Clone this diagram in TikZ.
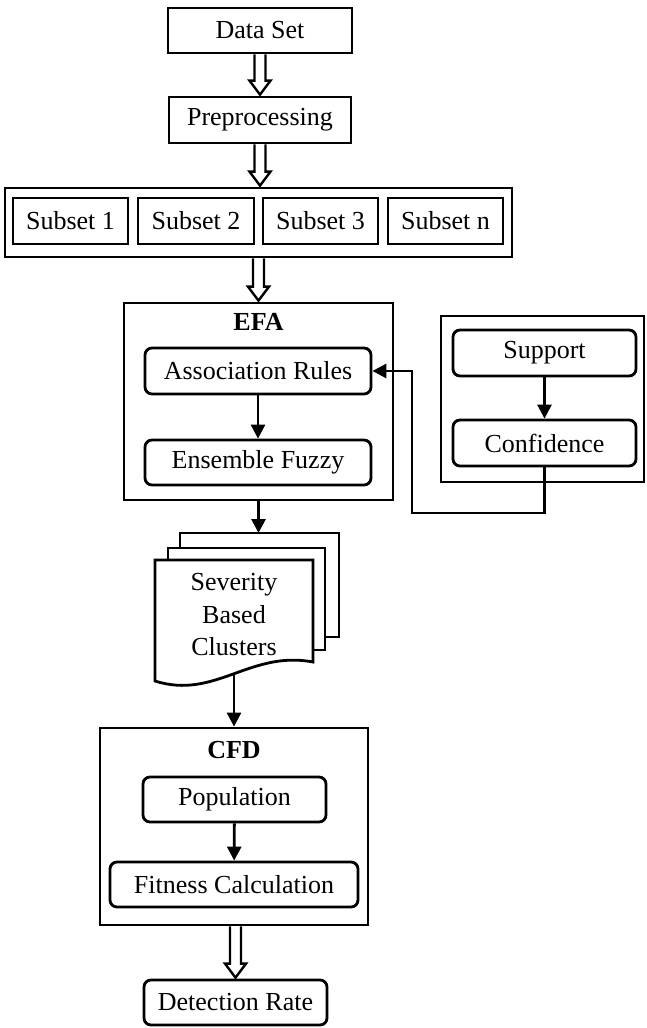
\documentclass[tikz,border=0pt]{standalone}
\usepackage{fontspec}
\setmainfont{Liberation Serif}
\usetikzlibrary{arrows.meta,calc}
\tikzset{
  box/.style={draw, line width=2.8pt, inner sep=0pt, align=center},
  rbox/.style={box, rounded corners=7pt},
  title/.style={inner sep=0pt, font=\fontsize{26}{32.5}\selectfont\bfseries},
  flow/.style={line width=2.8pt, -{Triangle[length=14pt,width=14pt]}},
  harrow/.style={draw, line width=2.4pt, line join=miter, fill=white},
  page/.style={draw, line width=2.8pt, fill=white, line join=miter},
}
\newcommand\hollowarr[2]{%
  \draw[harrow] let \p1=(#1), \p2=(#2) in
    (\x1-5.5pt,\y1) -- (\x1-5.5pt,\y2+15pt) -- (\x1-10.5pt,\y2+15pt) -- (\x1,\y2+1pt)
    -- (\x1+10.5pt,\y2+15pt) -- (\x1+5.5pt,\y2+15pt) -- (\x1+5.5pt,\y1);}
\begin{document}
\begin{tikzpicture}[x=1pt,y=-1pt,font=\fontsize{26}{32.5}\selectfont]
\useasboundingbox (0,0) rectangle (646,1028);

% top
\node[box, minimum width=184pt, minimum height=45pt] (data) at (260,30.5) {Data Set};
\node[box, minimum width=182pt, minimum height=46pt] (pre) at (260,120) {Preprocessing};

% subsets
\node[box, minimum width=507pt, minimum height=69pt] (outer) at (258.5,222.5) {};
\node[box, minimum width=115pt, minimum height=46pt] (s1) at (70.5,221) {Subset 1};
\node[box, minimum width=116pt, minimum height=46pt] (s2) at (196,221) {Subset 2};
\node[box, minimum width=115pt, minimum height=46pt] (s3) at (320.5,221) {Subset 3};
\node[box, minimum width=115pt, minimum height=46pt] (sn) at (445.5,221) {Subset n};

% EFA
\node[box, minimum width=269pt, minimum height=197pt] (efa) at (258.5,401.5) {};
\node[title] (efat) at (258.5,322) {EFA};
\node[rbox, minimum width=226pt, minimum height=46pt] (assoc) at (258,371) {Association Rules};
\node[rbox, minimum width=226pt, minimum height=45pt] (ens) at (258,462.5) {Ensemble Fuzzy};

% right box
\node[box, minimum width=203pt, minimum height=166pt] (rbx) at (542.5,399) {};
\node[rbox, minimum width=183pt, minimum height=46pt] (sup) at (544.5,353) {Support};
\node[rbox, minimum width=183pt, minimum height=46pt] (conf) at (544.5,443) {Confidence};

% documents
\draw[page] (180,533) rectangle (339,637);
\draw[page] (168,548) rectangle (325,650);
\draw[page] (155,560) -- (313,560) -- (313,662)
   .. controls (250,650) and (215,700) .. (155,681) -- cycle;
\node[inner sep=0pt, align=center] (docs) at (234,615) {Severity\\Based\\Clusters};
\coordinate (doctop) at (258.5,533);
\coordinate (docbot) at (234,674);

% CFD
\node[box, minimum width=268pt, minimum height=197pt] (cfd) at (234,826.5) {};
\node[title] (cfdt) at (234,750) {CFD};
\node[rbox, minimum width=183pt, minimum height=45pt] (pop) at (234.5,799.5) {Population};
\node[rbox, minimum width=248pt, minimum height=45pt] (fit) at (234,884.5) {Fitness Calculation};
\node[rbox, minimum width=183pt, minimum height=45pt] (det) at (235.5,1002.5) {Detection Rate};

% hollow arrows
\hollowarr{data.south}{pre.north}
\hollowarr{pre.south}{outer.north}
\hollowarr{outer.south}{efa.north}
\hollowarr{det.north |- cfd.south}{det.north}

% connectors
\draw[flow] (assoc) -- (ens);
\draw[flow] (sup) -- (conf);
\draw[flow] (pop) -- (fit);
\draw[flow] (efa.south) -- (doctop);
\draw[flow] (docbot) -- (cfd.north -| docbot);
\draw[flow, line join=miter] (conf.south) -- (conf.south |- 0,513) -- (412,513) -- (412,371) -- (assoc.east);
\end{tikzpicture}
\end{document}
